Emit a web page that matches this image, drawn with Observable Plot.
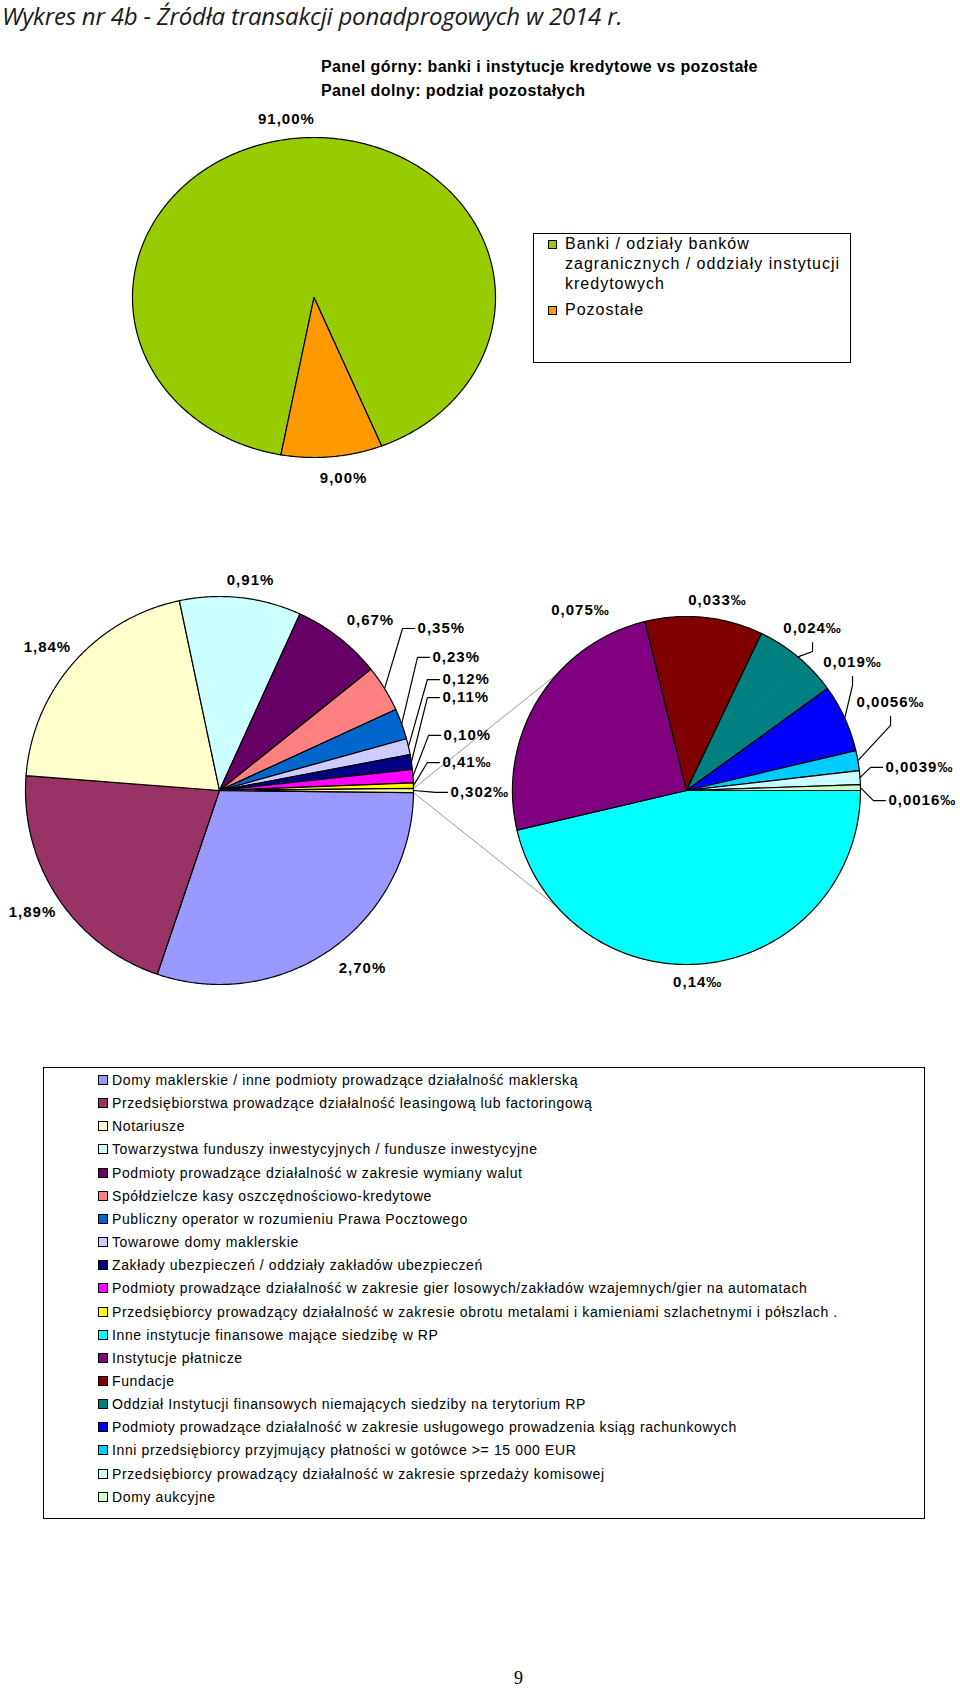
<!DOCTYPE html>
<html>
<head>
<meta charset="utf-8">
<script src="https://cdn.jsdelivr.net/npm/d3@7"></script>
<script src="https://cdn.jsdelivr.net/npm/@observablehq/plot@0.6"></script>
<style>
  body { margin: 0; background: #fff; }
  #page { position: relative; width: 960px; height: 1690px; overflow: hidden; background: #fff;
          font-family: "Liberation Sans", Arial, sans-serif; color: #000; }
  #title { position: absolute; left: 2px; top: 1px; font-family: "Open Sans", sans-serif; font-style: italic;
           font-weight: 400; font-size: 24px; line-height: 30px; color: #1a1a1a; white-space: nowrap; letter-spacing: -0.2px; }
  .sub { position: absolute; left: 321px; font-weight: bold; font-size: 16px; line-height: 20px; white-space: nowrap; letter-spacing: 0.4px; }
  #topPlot { position: absolute; left: 0; top: 100px; }
  #botPlot { position: absolute; left: 0; top: 560px; }
  .pies text { letter-spacing: 1px; }
  #topLegend { position: absolute; left: 533px; top: 233px; width: 316px; height: 128px; border: 1.5px solid #000; }
  .tl { position: absolute; left: 31px; font-size: 16px; line-height: 20px; letter-spacing: 1px; white-space: nowrap; }
  .tsq { position: absolute; left: 14px; width: 7px; height: 7px; border: 1px solid #000; }
  #botLegend { position: absolute; left: 43px; top: 1067px; width: 880px; height: 450px; border: 1.5px solid #000; }
  .bl { position: absolute; left: 68px; font-size: 14px; line-height: 18px; white-space: nowrap; letter-spacing: 0.62px; }
  .bsq { position: absolute; left: 54px; width: 8px; height: 8px; border: 1px solid #000; }
  #pageno { position: absolute; left: 514px; top: 1668px; font-family: "Liberation Serif", serif; font-size: 18px; }
</style>
</head>
<body>
<div id="page">
  <div id="title">Wykres nr 4b - Źródła transakcji ponadprogowych w 2014 r.</div>
  <div class="sub" style="top:57px">Panel górny: banki i instytucje kredytowe vs pozostałe</div>
  <div class="sub" style="top:81px">Panel dolny: podział pozostałych</div>
  <div id="topPlot" class="pies"></div>
  <div id="topLegend"></div>
  <div id="botPlot" class="pies"></div>
  <div id="botLegend"></div>
  <div id="pageno">9</div>
</div>
<script>
// ---------------- DATA ----------------
// Upper pie
const topCategories = ["Banki / odziały banków zagranicznych / oddziały instytucji kredytowych", "Pozostałe"];
const topLegendLines = [["Banki / odziały banków", "zagranicznych / oddziały instytucji", "kredytowych"], ["Pozostałe"]];
const topValues = [91.00, 9.00];            // %
const topLabels = ["91,00%", "9,00%"];
const topColors = ["#99CC00", "#FF9900"];

// Lower panel: primary pie (values in %)
const mainCategories = [
  "Domy maklerskie / inne podmioty prowadzące działalność maklerską",
  "Przedsiębiorstwa prowadzące działalność leasingową lub factoringową",
  "Notariusze",
  "Towarzystwa funduszy inwestycyjnych / fundusze inwestycyjne",
  "Podmioty prowadzące działalność w zakresie wymiany walut",
  "Spółdzielcze kasy oszczędnościowo-kredytowe",
  "Publiczny operator w rozumieniu Prawa Pocztowego",
  "Towarowe domy maklerskie",
  "Zakłady ubezpieczeń / oddziały zakładów ubezpieczeń",
  "Podmioty prowadzące działalność w zakresie gier losowych/zakładów wzajemnych/gier na automatach",
  "Przedsiębiorcy prowadzący działalność w zakresie obrotu metalami i kamieniami szlachetnymi i półszlach ."
];
const otherCategory = "Pozostałe (panel prawy)";
const mainValues = [2.70, 1.89, 1.84, 0.91, 0.67, 0.35, 0.23, 0.12, 0.11, 0.10, 0.041];   // %
const mainLabels = ["2,70%", "1,89%", "1,84%", "0,91%", "0,67%", "0,35%", "0,23%", "0,12%", "0,11%", "0,10%", "0,41‰"];
const otherLabel = "0,302‰";
const mainColors = ["#9999FF", "#993366", "#FFFFCC", "#CCFFFF", "#660066", "#FF8080", "#0066CC", "#CCCCFF", "#000080", "#FF00FF", "#FFFF00"];
const otherColor = "#FFFF99";

// Lower panel: secondary pie (values in ‰)
const secondCategories = [
  "Inne instytucje finansowe mające siedzibę w RP",
  "Instytucje płatnicze",
  "Fundacje",
  "Oddział Instytucji finansowych niemających  siedziby na terytorium RP",
  "Podmioty prowadzące działalność w zakresie usługowego prowadzenia ksiąg rachunkowych",
  "Inni przedsiębiorcy przyjmujący płatności w gotówce >= 15 000 EUR",
  "Przedsiębiorcy prowadzący działalność w zakresie sprzedaży komisowej",
  "Domy aukcyjne"
];
const secondValues = [0.14, 0.075, 0.033, 0.024, 0.019, 0.0056, 0.0039, 0.0016];   // ‰
const secondLabels = ["0,14‰", "0,075‰", "0,033‰", "0,024‰", "0,019‰", "0,0056‰", "0,0039‰", "0,0016‰"];
const secondColors = ["#00FFFF", "#800080", "#800000", "#008080", "#0000FF", "#00CCFF", "#CCFFFF", "#CCFFCC"];

// ---------------- LAYOUT (positions in pie-radius units) ----------------
const topStartAngle = 190.5;          // degrees clockwise from 12 o'clock
const topLabelPos = [[-0.152, 1.112], [0.163, -1.131]];
const secondCenter = [2.407, 0];      // relative to primary pie (radius 1)
const secondRadius = 0.897;
const connectorAngles = [312, 228];   // where the connector lines meet the secondary pie
// [u, v, kind]  kind: c = centred, h = leader from left, v = leader from below
const mainLabelPos = [
  [0.737, -0.918, "c"], [-0.964, -0.629, "c"], [-0.887, 0.737, "c"], [0.160, 1.082, "c"], [0.778, 0.876, "c"],
  [1.021, 0.835, "h"], [1.098, 0.686, "h"], [1.149, 0.572, "h"], [1.149, 0.479, "h"], [1.155, 0.284, "h"],
  [1.149, 0.144, "h"]
];
const otherLabelPos = [1.191, -0.010, "h"];
const secondLabelPos = [
  [2.465, -0.990, "c"], [1.861, 0.928, "c"], [2.567, 0.979, "c"], [3.057, 0.835, "v"], [3.263, 0.660, "v"],
  [3.459, 0.454, "v"], [3.433, 0.119, "h"], [3.448, -0.052, "h"]
];

// ---------------- helpers ----------------
const rad = d => d * Math.PI / 180;
function pie(values, keys, start, cx, cy, r) {
  const total = d3.sum(values);
  const pts = [], info = [];
  let a = start;
  values.forEach((v, i) => {
    const span = v / total * 360, a0 = a, a1 = a + span;
    pts.push({key: keys[i], x: cx, y: cy});
    const n = Math.max(2, Math.ceil(span / 0.5));
    for (let j = 0; j <= n; j++) {
      const t = rad(a0 + span * j / n);
      pts.push({key: keys[i], x: cx + r * Math.sin(t), y: cy + r * Math.cos(t)});
    }
    const m = rad((a0 + a1) / 2);
    info.push({key: keys[i], a0, a1, ax: cx + r * Math.sin(m), ay: cy + r * Math.cos(m)});
    a = a1;
  });
  return {pts, info};
}
const U = 1 / 194; // one pixel in lower-panel units
function labelMarks(labels, pos, info, key) {
  const texts = [], leaders = [];
  labels.forEach((t, i) => {
    const [u, v, kind] = pos[i];
    texts.push({text: t, x: u, y: v, kind});
    const s = info[i];
    if (kind === "h") {
      leaders.push({k: key + i, x: s.ax, y: s.ay}, {k: key + i, x: u - 15 * U, y: v}, {k: key + i, x: u - 3 * U, y: v});
    } else if (kind === "v") {
      leaders.push({k: key + i, x: s.ax, y: s.ay}, {k: key + i, x: u, y: v - 23 * U}, {k: key + i, x: u, y: v - 14 * U});
    }
  });
  return {texts, leaders};
}
const labelFont = {fontFamily: "Liberation Sans, Arial, sans-serif", fontWeight: "bold", fontSize: 15, fill: "#000"};

// ---------------- upper pie ----------------
const topPie = pie(topValues, topCategories, topStartAngle, 0, 0, 1);
const topTexts = topLabels.map((t, i) => ({text: t, x: topLabelPos[i][0], y: topLabelPos[i][1]}));
document.getElementById("topPlot").append(Plot.plot({
  width: 960, height: 420, margin: 0,
  x: {domain: [-1, 1], range: [132, 495], axis: null},
  y: {domain: [-1, 1], range: [357, 37], axis: null},
  color: {domain: topCategories, range: topColors},
  marks: [
    Plot.line(topPie.pts, {x: "x", y: "y", z: "key", fill: "key", stroke: "#000", strokeWidth: 1.2, curve: "linear-closed"}),
    Plot.text(topTexts, {x: "x", y: "y", text: "text", ...labelFont})
  ]
}));

// ---------------- lower panel ----------------
const mainAll = mainValues.concat([d3.sum(secondValues) / 10]);   // ‰ -> %
const mainKeys = mainCategories.concat([otherCategory]);
const otherSpan = mainAll[mainAll.length - 1] / d3.sum(mainAll) * 360;
const mainPie = pie(mainAll, mainKeys, 90 + otherSpan / 2, 0, 0, 1);
const secPie = pie(secondValues, secondCategories, 90, secondCenter[0], secondCenter[1], secondRadius);

const oth = mainPie.info[mainPie.info.length - 1];
const connectors = [oth.a0, oth.a1].map((a, i) => ({
  x1: Math.sin(rad(a)), y1: Math.cos(rad(a)),
  x2: secondCenter[0] + secondRadius * Math.sin(rad(connectorAngles[i])),
  y2: secondCenter[1] + secondRadius * Math.cos(rad(connectorAngles[i]))
}));

const mL = labelMarks(mainLabels.concat([otherLabel]), mainLabelPos.concat([otherLabelPos]), mainPie.info, "m");
const sL = labelMarks(secondLabels, secondLabelPos, secPie.info, "s");
const texts = mL.texts.concat(sL.texts);
const leaders = mL.leaders.concat(sL.leaders);

document.getElementById("botPlot").append(Plot.plot({
  width: 960, height: 440, margin: 0,
  x: {domain: [-1, 1], range: [25, 413], axis: null},
  y: {domain: [-1, 1], range: [424, 36], axis: null},
  color: {domain: mainKeys.concat(secondCategories), range: mainColors.concat([otherColor], secondColors)},
  marks: [
    Plot.link(connectors, {x1: "x1", y1: "y1", x2: "x2", y2: "y2", stroke: "#7f7f7f", strokeWidth: 0.8}),
    Plot.line(mainPie.pts, {x: "x", y: "y", z: "key", fill: "key", stroke: "#000", strokeWidth: 1.2, curve: "linear-closed"}),
    Plot.line(secPie.pts, {x: "x", y: "y", z: "key", fill: "key", stroke: "#000", strokeWidth: 1.2, curve: "linear-closed"}),
    Plot.line(leaders, {x: "x", y: "y", z: "k", stroke: "#000", strokeWidth: 1.2}),
    Plot.text(texts.filter(d => d.kind !== "h"), {x: "x", y: "y", text: "text", textAnchor: "middle", ...labelFont}),
    Plot.text(texts.filter(d => d.kind === "h"), {x: "x", y: "y", text: "text", textAnchor: "start", ...labelFont})
  ]
}));

// ---------------- legends ----------------
const tl = document.getElementById("topLegend");
const topRowTop = [[0, 20, 40], [66]];   // line offsets inside box (px)
topLegendLines.forEach((lines, i) => {
  const sq = document.createElement("div");
  sq.className = "tsq";
  sq.style.top = (topRowTop[i][0] + 6) + "px";
  sq.style.background = topColors[i];
  tl.append(sq);
  lines.forEach((ln, j) => {
    const d = document.createElement("div");
    d.className = "tl";
    d.style.top = topRowTop[i][j] + "px";
    d.textContent = ln;
    tl.append(d);
  });
});

const bl = document.getElementById("botLegend");
const legendKeys = mainCategories.concat(secondCategories);
const legendColors = mainColors.concat(secondColors);
legendKeys.forEach((k, i) => {
  const cy = 12 + i * 23.15;
  const sq = document.createElement("div");
  sq.className = "bsq";
  sq.style.top = (cy - 5) + "px";
  sq.style.background = legendColors[i];
  bl.append(sq);
  const d = document.createElement("div");
  d.className = "bl";
  d.style.top = (cy - 9) + "px";
  d.textContent = k;
  bl.append(d);
});
</script>
</body>
</html>
